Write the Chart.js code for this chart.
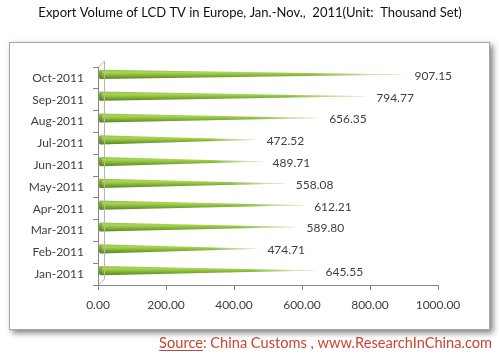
<!DOCTYPE html>
<html>
<head>
<meta charset="utf-8">
<script src="https://cdn.jsdelivr.net/npm/chart.js@4.4.1/dist/chart.umd.min.js"></script>
<style>
html,body{margin:0;padding:0;background:#fff;}
#wrap{width:499px;height:356px;position:relative;}
</style>
</head>
<body>
<div id="wrap"><canvas id="c" width="499" height="356"></canvas></div>
<script>
const titleText = "Export Volume of LCD TV in Europe, Jan.-Nov.,  2011(Unit:  Thousand Set)";
const categories = ["Jan-2011","Feb-2011","Mar-2011","Apr-2011","May-2011","Jun-2011","Jul-2011","Aug-2011","Sep-2011","Oct-2011"];
const exportVolume = [645.55, 474.71, 589.80, 612.21, 558.08, 489.71, 472.52, 656.35, 794.77, 907.15];
const xTicks = [0, 200, 400, 600, 800, 1000];
const sourceLead = "Source";
const sourceRest = ": China Customs , www.ResearchInChina.com";

const FONT = "Lato, 'Open Sans', sans-serif";

const framePlugin = {
  id: 'frame',
  beforeDraw(chart) {
    const ctx = chart.ctx;
    ctx.save();
    ctx.fillStyle = '#fff';
    ctx.fillRect(0, 0, chart.width, chart.height);
    ctx.shadowColor = 'rgba(0,0,0,0.5)';
    ctx.shadowBlur = 6;
    ctx.shadowOffsetX = 3;
    ctx.shadowOffsetY = 3;
    ctx.fillStyle = '#fff';
    ctx.fillRect(9, 42, 481, 288);
    ctx.shadowColor = 'transparent';
    ctx.strokeStyle = '#a6a6a6';
    ctx.lineWidth = 1;
    ctx.strokeRect(9.5, 42.5, 480, 287);
    ctx.fillStyle = '#111';
    ctx.font = "13px " + FONT;
    ctx.textAlign = 'center';
    ctx.textBaseline = 'middle';
    ctx.fillText(titleText, 250, 13);
    ctx.font = "14.6px " + FONT;
    ctx.textBaseline = 'alphabetic';
    ctx.textAlign = 'left';
    const wLead = ctx.measureText(sourceLead).width;
    const wRest = ctx.measureText(sourceRest).width;
    const sx = 492 - wLead - wRest;
    const sy = 348;
    ctx.fillStyle = '#cc4433';
    ctx.fillText(sourceLead, sx, sy);
    ctx.fillText(sourceRest, sx + wLead, sy);
    ctx.strokeStyle = '#cc4433';
    ctx.beginPath();
    ctx.moveTo(sx, sy + 2.5);
    ctx.lineTo(sx + wLead, sy + 2.5);
    ctx.stroke();
    ctx.restore();
  },
  afterDraw(chart) {
    const ctx = chart.ctx;
    const a = chart.chartArea;
    ctx.save();
    ctx.strokeStyle = '#b4b4b4';
    ctx.lineWidth = 1;
    ctx.beginPath();
    ctx.moveTo(a.left + 0.5, a.top);
    ctx.lineTo(a.left + 6.5, a.top - 6);
    ctx.lineTo(a.left + 6.5, a.bottom - 6);
    ctx.lineTo(a.left + 0.5, a.bottom);
    ctx.stroke();
    ctx.restore();
  }
};

const conePlugin = {
  id: 'cones',
  afterDatasetsDraw(chart) {
    const ctx = chart.ctx;
    const meta = chart.getDatasetMeta(0);
    ctx.save();
    meta.data.forEach((el, i) => {
      const x0 = el.base + 2;
      const x1 = el.x;
      const cy = el.y - 3.5;
      const h = 4.6;
      const vg = ctx.createLinearGradient(0, cy - h, 0, cy + h);
      vg.addColorStop(0, '#98c248');
      vg.addColorStop(0.3, '#aad456');
      vg.addColorStop(0.6, '#86b638');
      vg.addColorStop(1, '#5a8220');
      ctx.beginPath();
      ctx.moveTo(x0, cy - h);
      ctx.lineTo(x1, cy);
      ctx.lineTo(x0, cy + h);
      ctx.closePath();
      ctx.fillStyle = vg;
      ctx.fill();
      const hg = ctx.createLinearGradient(x0, 0, x1, 0);
      hg.addColorStop(0, 'rgba(255,255,255,0)');
      hg.addColorStop(0.7, 'rgba(255,255,255,0)');
      hg.addColorStop(1, 'rgba(255,255,255,0.85)');
      ctx.fillStyle = hg;
      ctx.fill();
      const cg = ctx.createLinearGradient(0, cy - h, 0, cy + h);
      cg.addColorStop(0, '#96c046');
      cg.addColorStop(1, '#5a7e20');
      ctx.beginPath();
      ctx.ellipse(x0, cy, 1.8, h, 0, 0, Math.PI * 2);
      ctx.fillStyle = cg;
      ctx.fill();
      ctx.fillStyle = '#404040';
      ctx.font = "12px " + FONT;
      ctx.textAlign = 'left';
      ctx.textBaseline = 'middle';
      ctx.fillText(exportVolume[i].toFixed(2), x1 + 8, el.y - 2);
    });
    ctx.restore();
  }
};

new Chart(document.getElementById('c'), {
  type: 'bar',
  data: {
    labels: categories,
    datasets: [{
      data: exportVolume,
      backgroundColor: 'rgba(0,0,0,0)',
      borderWidth: 0,
      categoryPercentage: 0.5,
      barPercentage: 1
    }]
  },
  options: {
    indexAxis: 'y',
    responsive: false,
    animation: false,
    events: [],
    layout: { padding: { left: 0, right: 61, top: 67, bottom: 41 } },
    plugins: { legend: { display: false }, tooltip: { enabled: false }, title: { display: false } },
    scales: {
      x: {
        min: 0, max: 1000,
        afterBuildTicks(scale) { scale.ticks = xTicks.map(v => ({ value: v })); },
        afterFit(scale) { scale.height = 30; },
        ticks: {
          callback: v => Number(v).toFixed(2),
          color: '#404040',
          font: { family: FONT, size: 12 },
          padding: 8,
          maxRotation: 0
        },
        grid: { drawOnChartArea: false, drawTicks: true, tickLength: 5, color: '#868686' },
        border: { color: '#868686' }
      },
      y: {
        reverse: true,
        offset: true,
        afterFit(scale) { scale.width = 98; },
        ticks: {
          color: '#404040',
          font: { family: FONT, size: 12 },
          padding: 9
        },
        grid: { offset: true, drawOnChartArea: false, tickLength: 5, color: '#868686' },
        border: { color: '#868686' }
      }
    }
  },
  plugins: [framePlugin, conePlugin]
});
</script>
</body>
</html>
